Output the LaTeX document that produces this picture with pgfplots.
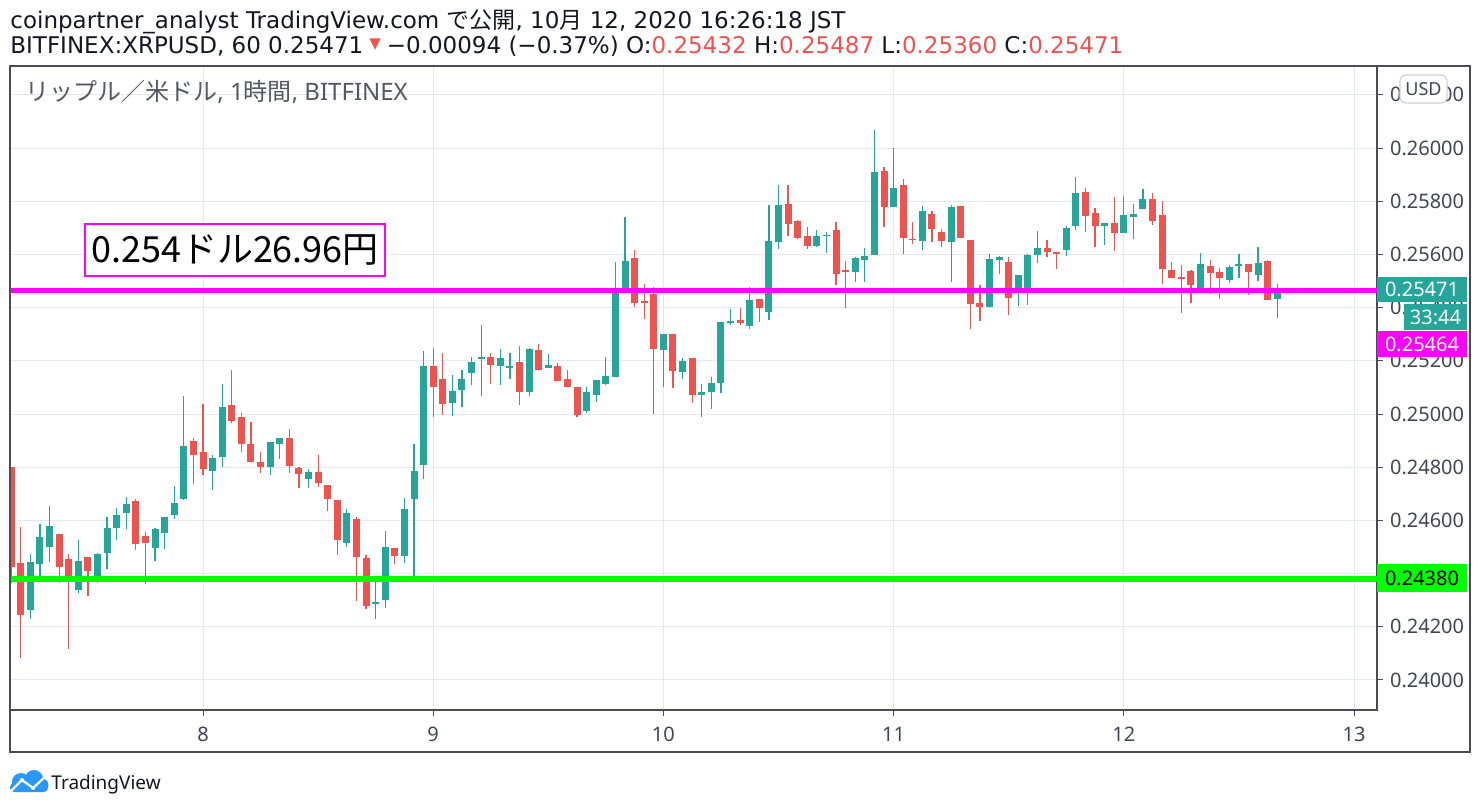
\documentclass[border=0pt]{standalone}
\usepackage{pgfplots}
\pgfplotsset{compat=1.18}
\usepackage{pgfplotstable}
\usepackage{fontspec}
\setmainfont{Noto Sans}
\newfontfamily\cjk{Noto Sans CJK JP}
\newfontfamily\dv{DejaVu Sans}
\definecolor{tvred}{RGB}{239,83,80}
\definecolor{tvgreen}{RGB}{38,166,154}
\definecolor{mag}{RGB}{255,0,255}
\definecolor{lime}{RGB}{0,255,0}
\definecolor{framecol}{RGB}{74,75,87}
\definecolor{gridcol}{RGB}{225,233,240}
\definecolor{labelcol}{RGB}{67,70,81}
\definecolor{hdr}{RGB}{19,23,34}
\definecolor{legcol}{RGB}{85,88,98}
\definecolor{tvblue}{RGB}{41,152,246}

\pgfplotstableread{
n o h l c
3 0.24263 0.24475 0.24229 0.24443
4 0.24436 0.24586 0.24390 0.24537
5 0.24501 0.24654 0.24444 0.24579
8 0.24338 0.24526 0.24327 0.24447
10 0.24387 0.24477 0.24365 0.24473
11 0.24478 0.24613 0.24418 0.24571
12 0.24572 0.24647 0.24527 0.24620
13 0.24629 0.24688 0.24569 0.24662
16 0.24496 0.24570 0.24447 0.24566
17 0.24552 0.24611 0.24492 0.24611
18 0.24620 0.24728 0.24605 0.24664
19 0.24681 0.25069 0.24675 0.24880
22 0.24784 0.24844 0.24714 0.24835
23 0.24840 0.25114 0.24799 0.25028
28 0.24799 0.24896 0.24769 0.24896
29 0.24886 0.24911 0.24829 0.24911
32 0.24757 0.24792 0.24723 0.24782
36 0.24516 0.24643 0.24501 0.24628
39 0.24288 0.24381 0.24229 0.24292
40 0.24301 0.24560 0.24270 0.24499
42 0.24467 0.24684 0.24440 0.24643
43 0.24682 0.24888 0.24376 0.24786
44 0.24810 0.25235 0.24757 0.25182
47 0.25040 0.25148 0.24991 0.25088
48 0.25089 0.25164 0.25025 0.25133
49 0.25153 0.25213 0.25108 0.25197
50 0.25206 0.25333 0.25067 0.25216
52 0.25180 0.25243 0.25108 0.25209
53 0.25172 0.25228 0.25131 0.25182
55 0.25082 0.25250 0.25067 0.25243
57 0.25172 0.25224 0.25172 0.25186
61 0.25010 0.25103 0.25005 0.25084
62 0.25070 0.25126 0.25044 0.25126
63 0.25112 0.25216 0.25108 0.25141
64 0.25138 0.25571 0.25138 0.25469
65 0.25469 0.25741 0.25465 0.25575
69 0.25240 0.25299 0.25101 0.25299
71 0.25157 0.25209 0.25131 0.25201
73 0.25070 0.25114 0.24988 0.25084
74 0.25084 0.25140 0.25020 0.25118
75 0.25118 0.25346 0.25080 0.25345
76 0.25342 0.25394 0.25333 0.25348
78 0.25332 0.25477 0.25320 0.25428
80 0.25384 0.25786 0.25353 0.25650
81 0.25648 0.25862 0.25621 0.25786
85 0.25633 0.25692 0.25629 0.25669
86 0.25670 0.25684 0.25606 0.25673
89 0.25535 0.25590 0.25497 0.25586
90 0.25580 0.25624 0.25497 0.25594
91 0.25599 0.26069 0.25599 0.25911
93 0.25780 0.26000 0.25780 0.25850
96 0.25652 0.25782 0.25618 0.25764
99 0.25648 0.25786 0.25497 0.25779
103 0.25403 0.25601 0.25403 0.25582
104 0.25580 0.25594 0.25527 0.25589
106 0.25474 0.25522 0.25406 0.25522
107 0.25474 0.25601 0.25410 0.25597
108 0.25597 0.25688 0.25567 0.25624
111 0.25616 0.25707 0.25594 0.25699
112 0.25707 0.25892 0.25692 0.25831
115 0.25708 0.25718 0.25635 0.25718
117 0.25682 0.25820 0.25682 0.25748
118 0.25742 0.25790 0.25658 0.25752
119 0.25769 0.25847 0.25769 0.25809
125 0.25469 0.25605 0.25460 0.25564
128 0.25504 0.25560 0.25493 0.25552
129 0.25556 0.25601 0.25512 0.25564
131 0.25522 0.25628 0.25501 0.25567
133 0.25432 0.25487 0.25360 0.25471
}\upcandles

\pgfplotstableread{
n o h l c
1 0.24800 0.24800 0.24365 0.24425
2 0.24438 0.24574 0.24082 0.24244
6 0.24548 0.24548 0.24365 0.24425
7 0.24454 0.24475 0.24116 0.24390
9 0.24462 0.24462 0.24316 0.24410
14 0.24673 0.24681 0.24489 0.24512
15 0.24541 0.24556 0.24361 0.24514
20 0.24899 0.24911 0.24735 0.24844
21 0.24858 0.25039 0.24772 0.24795
24 0.25035 0.25164 0.24965 0.24972
25 0.24990 0.25005 0.24859 0.24886
26 0.24888 0.24971 0.24821 0.24821
27 0.24820 0.24858 0.24780 0.24799
30 0.24911 0.24945 0.24780 0.24803
31 0.24797 0.24801 0.24723 0.24776
33 0.24782 0.24847 0.24727 0.24742
34 0.24733 0.24733 0.24636 0.24682
35 0.24677 0.24677 0.24470 0.24527
37 0.24605 0.24613 0.24297 0.24463
38 0.24458 0.24469 0.24267 0.24278
41 0.24496 0.24496 0.24436 0.24467
45 0.25182 0.25250 0.24987 0.25101
46 0.25130 0.25231 0.24995 0.25036
51 0.25213 0.25228 0.25112 0.25184
54 0.25197 0.25254 0.25033 0.25082
56 0.25239 0.25262 0.25165 0.25165
58 0.25182 0.25190 0.25123 0.25123
59 0.25133 0.25167 0.25101 0.25101
60 0.25103 0.25103 0.24990 0.24998
66 0.25586 0.25616 0.25403 0.25418
67 0.25425 0.25487 0.25357 0.25420
68 0.25450 0.25479 0.24999 0.25244
70 0.25299 0.25299 0.25097 0.25161
72 0.25209 0.25209 0.25040 0.25070
77 0.25352 0.25397 0.25333 0.25342
79 0.25431 0.25431 0.25346 0.25399
82 0.25790 0.25862 0.25670 0.25716
83 0.25726 0.25730 0.25659 0.25663
84 0.25669 0.25703 0.25621 0.25633
87 0.25692 0.25722 0.25486 0.25527
88 0.25541 0.25575 0.25399 0.25536
92 0.25914 0.25930 0.25704 0.25780
94 0.25862 0.25884 0.25603 0.25663
95 0.25659 0.25722 0.25640 0.25657
97 0.25752 0.25764 0.25648 0.25697
98 0.25684 0.25697 0.25629 0.25652
100 0.25782 0.25782 0.25663 0.25663
101 0.25655 0.25655 0.25320 0.25414
102 0.25416 0.25484 0.25350 0.25403
105 0.25571 0.25590 0.25372 0.25436
109 0.25624 0.25654 0.25590 0.25609
110 0.25609 0.25609 0.25545 0.25601
113 0.25835 0.25850 0.25684 0.25745
114 0.25756 0.25775 0.25628 0.25707
116 0.25718 0.25816 0.25613 0.25682
120 0.25809 0.25831 0.25712 0.25727
121 0.25748 0.25801 0.25490 0.25546
122 0.25541 0.25571 0.25512 0.25512
123 0.25514 0.25560 0.25380 0.25512
124 0.25537 0.25541 0.25418 0.25486
126 0.25556 0.25579 0.25450 0.25531
127 0.25533 0.25548 0.25433 0.25512
130 0.25564 0.25564 0.25447 0.25533
132 0.25575 0.25579 0.25429 0.25429
}\downcandles

\begin{document}
\begin{tikzpicture}
\useasboundingbox (0,0) rectangle (740.5pt,404.5pt);
\fill[white] (0,0) rectangle (740.5pt,404.5pt);
\begin{axis}[
  at={(5pt,49.5pt)}, anchor=south west,
  scale only axis, width=683.5pt, height=322pt,
  xmin=3.878, xmax=146.40, ymin=0.238872, ymax=0.263083,
  xtick={24,48,72,96,120,144},
  xticklabels={8,9,10,11,\textbf{12},13},
  ytick={0.240,0.242,0.244,0.246,0.248,0.250,0.252,0.254,0.256,0.258,0.260,0.262},
  yticklabels={0.24000,0.24200,0.24400,0.24600,0.24800,0.25000,0.25200,0.25400,0.25600,0.25800,0.26000,0.26200},
  scaled y ticks=false,
  xtick pos=left, ytick pos=right, yticklabel pos=right,
  tick align=outside, major tick length=3pt,
  grid=major, major grid style={gridcol, line width=0.5pt},
  axis line style={framecol, line width=0.8pt},
  tick style={framecol, line width=0.5pt},
  ticklabel style={font=\fontsize{10}{12}\selectfont, text=labelcol},
  xticklabel style={yshift=-2pt},
]
% wicks
\addplot[draw=none, mark=none, forget plot,
  error bars/.cd, y dir=both, y explicit, error mark=none,
  error bar style={line width=0.6pt, draw=tvgreen}]
  table[x expr=\thisrow{n}+3, y expr={0.5*(\thisrow{h}+\thisrow{l})}, y error expr={0.5*(\thisrow{h}-\thisrow{l})}] {\upcandles};
\addplot[draw=none, mark=none, forget plot,
  error bars/.cd, y dir=both, y explicit, error mark=none,
  error bar style={line width=0.6pt, draw=tvred}]
  table[x expr=\thisrow{n}+3, y expr={0.5*(\thisrow{h}+\thisrow{l})}, y error expr={0.5*(\thisrow{h}-\thisrow{l})}] {\downcandles};
% bodies
\addplot[draw=none, mark=none, forget plot,
  error bars/.cd, y dir=both, y explicit, error mark=none,
  error bar style={line width=3.5pt, draw=tvgreen}]
  table[x expr=\thisrow{n}+3, y expr={0.5*(\thisrow{o}+\thisrow{c})}, y error expr={max(0.5*abs(\thisrow{c}-\thisrow{o}),0.000012)}] {\upcandles};
\addplot[draw=none, mark=none, forget plot,
  error bars/.cd, y dir=both, y explicit, error mark=none,
  error bar style={line width=3.5pt, draw=tvred}]
  table[x expr=\thisrow{n}+3, y expr={0.5*(\thisrow{o}+\thisrow{c})}, y error expr={max(0.5*abs(\thisrow{c}-\thisrow{o}),0.000012)}] {\downcandles};
% horizontal levels
\addplot[mag, line width=2.7pt, forget plot] coordinates {(3.878,0.25464) (146.40,0.25464)};
\addplot[lime, line width=2.7pt, forget plot] coordinates {(3.878,0.24380) (146.40,0.24380)};
\end{axis}

\begin{scope}[x=0.5pt, y=-0.5pt, shift={(0pt,404.5pt)}]
% outer frame
\draw[framecol, line width=1.2pt] (10,66) rectangle (1470,752);
% header
\node[anchor=base west, inner sep=0, text=hdr, font=\dv\fontsize{11.5}{13}\selectfont] at (10,29)
  {coinpartner\_analyst TradingView.com {\cjk で公開}, 10{\cjk 月} 12, 2020 16:26:18 JST};
\node[anchor=base west, inner sep=0, text=hdr, font=\dv\fontsize{11.5}{13}\selectfont] at (10,54)
  {BITFINEX:XRPUSD, 60 0.25471\hspace{3pt}\raisebox{2.5pt}{\textcolor{tvred}{\fontsize{7.5}{8}\selectfont ▼}}\hspace{3pt}−0.00094 (−0.37\%) O:\textcolor{tvred}{0.25432} H:\textcolor{tvred}{0.25487} L:\textcolor{tvred}{0.25360} C:\textcolor{tvred}{0.25471}};
% legend in chart
\node[anchor=base west, inner sep=0, text=legcol, font=\fontsize{12}{13}\selectfont] at (25,101)
  {{\cjk リップル／米ドル}, 1{\cjk 時間}, BITFINEX};
% annotation box
\node[draw=mag, line width=1pt, fill=white, minimum width=150pt, minimum height=26pt, inner sep=0, text=black, font=\cjk\fontsize{18}{20}\selectfont] at (235,250) {0.254ドル26.96円};
% price labels
\fill[tvgreen] (1377,277) rectangle (1467,302);
\node[text=white, font=\bfseries\fontsize{10}{12}\selectfont, inner sep=0] at (1422,289.5) {0.25471};
\fill[tvgreen] (1404,304) rectangle (1467,330);
\node[text=white, font=\bfseries\fontsize{10}{12}\selectfont, inner sep=0] at (1435.5,317) {33:44};
\fill[mag] (1377,331) rectangle (1467,357);
\node[text=white, font=\bfseries\fontsize{10}{12}\selectfont, inner sep=0] at (1422,344) {0.25464};
\fill[lime] (1377,564) rectangle (1467,592);
\node[text=black, font=\fontsize{10}{12}\selectfont, inner sep=0] at (1422,578.5) {0.24380};
\draw[gray!35, fill=white, rounded corners=3pt, line width=0.6pt] (1400,75) rectangle (1447,103);
\node[text=labelcol, font=\fontsize{9}{11}\selectfont, inner sep=0] at (1423.5,89) {USD};
% TradingView logo
\fill[tvblue, rounded corners=2pt] (10,783) rectangle (48,792);
\fill[tvblue] (21,782) circle (9);
\fill[tvblue] (34,779) circle (9);
\fill[tvblue] (42,785) circle (6.5);
\draw[white, line width=1.1pt, line join=round] (11,791) -- (22,780) -- (33,788) -- (46,776);
\fill[white] (22,780) circle (2) (33,788) circle (2);
\node[anchor=base west, inner sep=0, text=hdr, font=\fontsize{9.5}{11}\selectfont] at (51,789) {TradingView};
\end{scope}
\end{tikzpicture}
\end{document}
